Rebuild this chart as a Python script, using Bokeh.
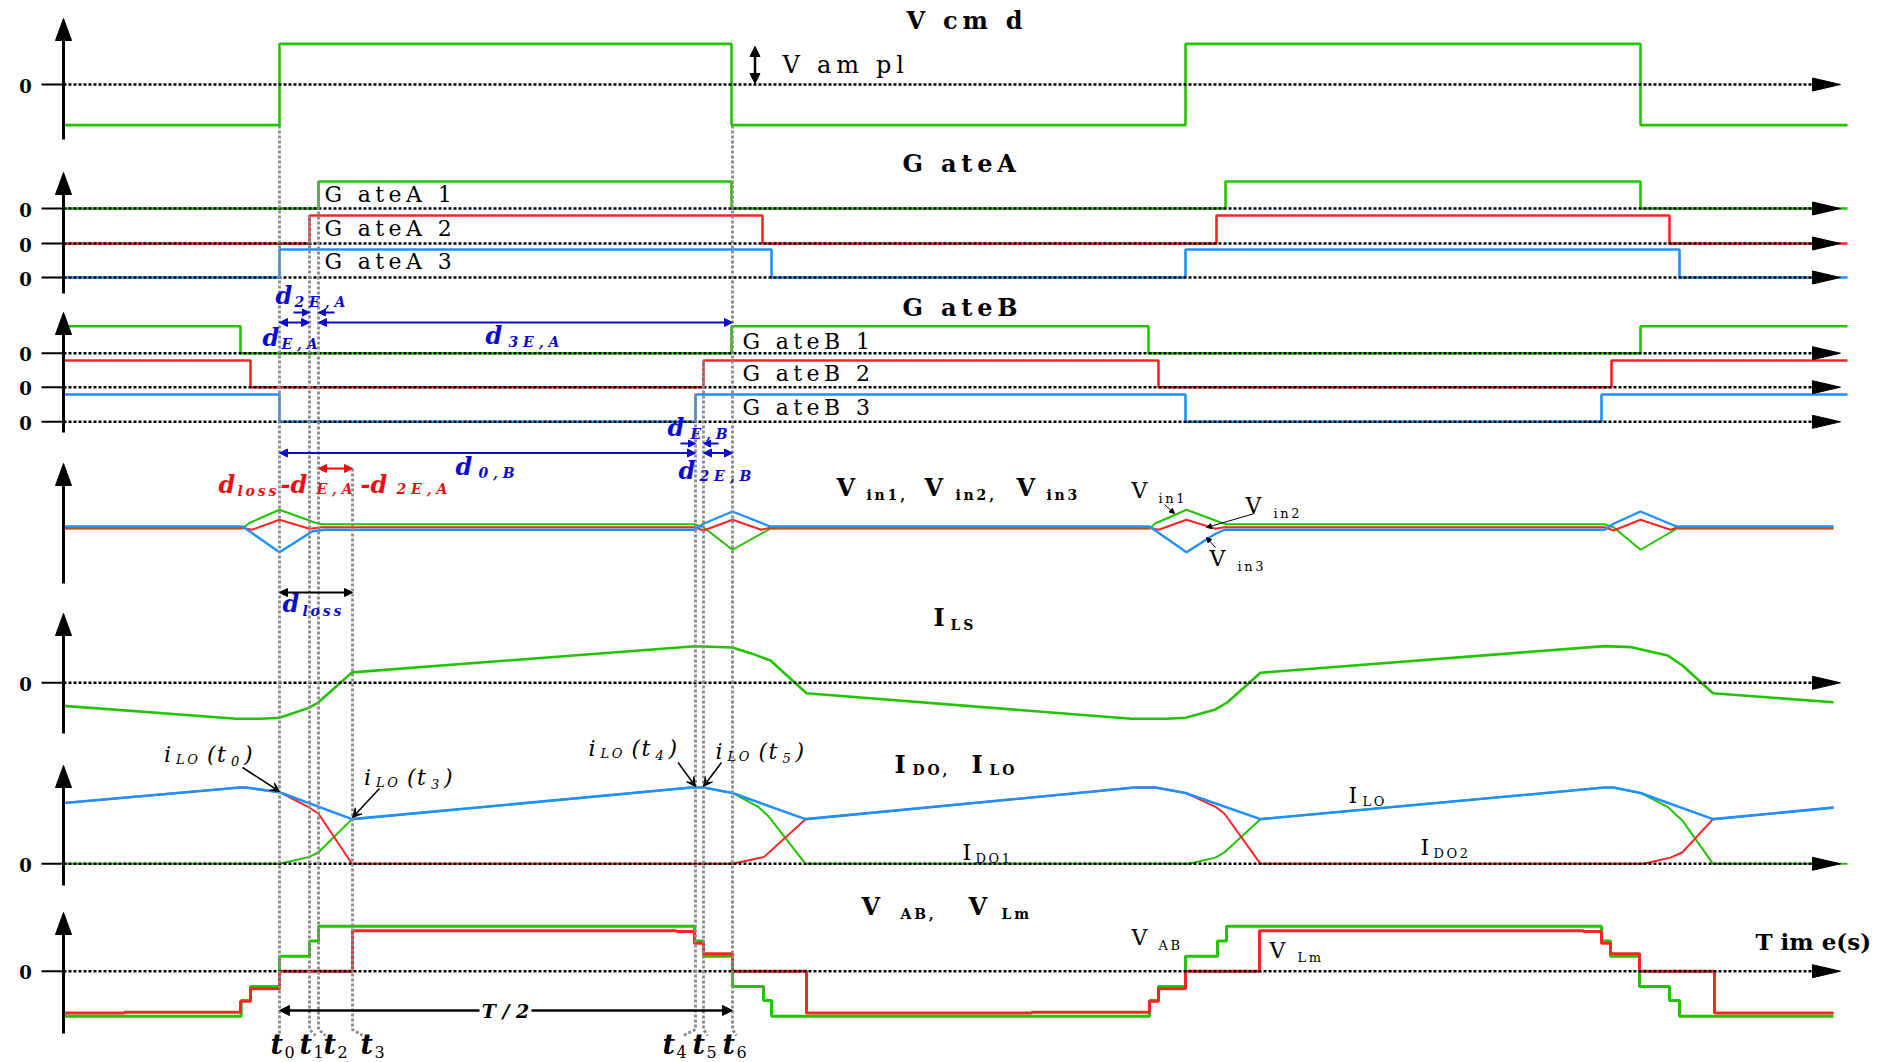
from bokeh.plotting import figure
from bokeh.models import Range1d, Arrow, NormalHead, VeeHead, ColumnDataSource
from bokeh.core.properties import value
from bokeh.embed import file_html
from bokeh.resources import INLINE

# ---------------- data ----------------
# switching instants t0..t6 (time in drawing units, one half period T/2 = t6 - t0)
T_EVENTS = [279, 309, 318, 352, 695, 703, 732]
T_NAMES = ["0", "1", "2", "3", "4", "5", "6"]

# command voltage (normalised, +/-1 = V ampl)
VCMD_T = [63, 279, 731, 1185, 1640, 1847]
VCMD_V = [-1, 1, -1, 1, -1, -1]

# gate signals (0 / 1)
GA1_T = [63, 318, 731, 1225, 1640, 1847]
GA1_V = [0, 1, 0, 1, 0, 0]
GA2_T = [63, 309, 762, 1216, 1669, 1847]
GA2_V = [0, 1, 0, 1, 0, 0]
GA3_T = [63, 279, 771, 1185, 1679, 1847]
GA3_V = [0, 1, 0, 1, 0, 0]
GB1_T = [63, 240, 731, 1148, 1640, 1847]
GB1_V = [1, 0, 1, 0, 1, 1]
GB2_T = [63, 250, 703, 1158, 1611, 1847]
GB2_V = [1, 0, 1, 0, 1, 1]
GB3_T = [63, 279, 695, 1185, 1601, 1847]
GB3_V = [1, 0, 1, 0, 1, 1]

# input voltages Vin1 (green), Vin2 (red), Vin3 (blue), deviation around common level
VIN1_T = [63, 242, 248.5, 260.6, 279, 315, 321, 694, 703, 732, 769.7,
          1149, 1155, 1168, 1186, 1221, 1226, 1604, 1613, 1640, 1676, 1833]
VIN1_V = [-0.05, -0.05, 0.17, 0.39, 0.71, 0.19, 0.13, 0.13, 0.01, -0.89, -0.05,
          -0.05, 0.17, 0.39, 0.71, 0.19, 0.13, 0.13, 0.01, -0.89, -0.05, -0.05]
VIN2_T = [63, 242, 251.5, 279, 309, 321, 694, 703, 732, 760.6, 769.7,
          1149, 1158, 1186, 1215, 1224, 1604, 1613, 1640, 1670, 1676, 1833]
VIN2_V = [-0.01, -0.01, -0.09, 0.31, -0.05, 0.01, 0.01, -0.12, 0.31, -0.09, -0.01,
          -0.01, -0.09, 0.31, -0.05, 0.01, 0.01, -0.12, 0.31, -0.09, -0.01, -0.01]
VIN3_T = [63, 242, 279, 312, 324, 694, 703, 732, 769.7,
          1149, 1186, 1215, 1224, 1604, 1613, 1640, 1676, 1833]
VIN3_V = [0.04, 0.04, -0.99, -0.15, -0.09, -0.09, 0.15, 0.64, 0.04,
          0.04, -0.99, -0.25, -0.09, -0.09, 0.15, 0.64, 0.04, 0.04]

# series inductor current I_LS (normalised)
ILS_T = [63.6, 236, 260.6, 279, 309, 318, 351.5, 691, 703, 732, 751.5, 770, 806,
         1131, 1167, 1185, 1215, 1227, 1260, 1604, 1631, 1667, 1682, 1712.5, 1833]
ILS_V = [-0.64, -1.0, -1.0, -0.97, -0.69, -0.54, 0.29, 1.01, 1.01, 0.98, 0.81, 0.62, -0.29,
         -1.0, -1.0, -0.97, -0.74, -0.54, 0.28, 1.02, 0.99, 0.76, 0.48, -0.29, -0.54]

# output inductor current I_LO (blue) and diode currents I_DO1 (green), I_DO2 (red)
ILO_T = [63.6, 239.4, 245.5, 279, 351.5, 691, 703, 732, 805,
         1134, 1155, 1185, 1260, 1604, 1613, 1640, 1712.5, 1833]
ILO_V = [0.79, 0.99, 0.99, 0.93, 0.58, 0.99, 0.99, 0.92, 0.58,
         0.99, 0.99, 0.92, 0.58, 0.99, 0.99, 0.92, 0.58, 0.73]
IDO1_T = [63.6, 279, 309, 318, 351.5, 691, 703, 732, 757.6, 768.5, 805,
          1188, 1215, 1224, 1260, 1604, 1613, 1640, 1667, 1682, 1712.5, 1847]
IDO1_V = [0, 0, 0.09, 0.15, 0.58, 0.99, 0.99, 0.92, 0.74, 0.61, 0,
          0, 0.08, 0.15, 0.58, 0.99, 0.99, 0.92, 0.74, 0.56, 0, 0]
IDO2_T = [63.6, 239.4, 245.5, 279, 309, 318, 351.5, 732, 763.6, 805,
          1134, 1155, 1185, 1215, 1224, 1260, 1643, 1670, 1682, 1712.5, 1833]
IDO2_V = [0.79, 0.99, 0.99, 0.93, 0.73, 0.65, 0, 0, 0.09, 0.58,
          0.99, 0.99, 0.92, 0.74, 0.65, 0, 0, 0.08, 0.15, 0.58, 0.73]

# bridge voltage V_AB (green) and magnetising voltage V_Lm (red), normalised
VAB_T = [63, 240.7, 250, 279, 309, 318, 694, 703, 732, 763, 771,
         1149, 1158, 1185, 1217, 1226, 1601, 1610, 1639, 1669, 1679, 1833]
VAB_V = [-1.0, -0.65, -0.34, 0.33, 0.67, 1.0, 0.67, 0.33, -0.34, -0.65, -1.0,
         -0.65, -0.34, 0.33, 0.67, 1.0, 0.67, 0.33, -0.34, -0.65, -1.0, -1.0]
VLM_T = [63, 124, 240, 250, 279, 352, 676, 694, 703, 732, 806,
         1031, 1149, 1158, 1185, 1259, 1583, 1601, 1610, 1639, 1714, 1833]
VLM_V = [-0.93, -0.91, -0.67, -0.39, 0.0, 0.90, 0.88, 0.62, 0.39, 0.0, -0.93,
         -0.91, -0.67, -0.39, 0.0, 0.90, 0.88, 0.62, 0.39, 0.0, -0.93, -0.93]

# ---------------- layout / style ----------------
W, H = 1893, 1060
X0, Y0 = 0, 0
GREEN = "#22C400"
RED = "#FF2424"
BLUE = "#1E90FF"
ABLUE = "#0B0BCC"
ARED = "#E81010"
GREY = "#8A8A8A"
SERIF = "DejaVu Serif"

# panel name -> (screen y of zero, pixels per unit)
PANELS = {
    "vcmd": (84.0, 40.6),
    "ga1": (208.0, 27.0), "ga2": (243.0, 28.0), "ga3": (277.0, 28.0),
    "gb1": (352.7, 27.0), "gb2": (386.7, 26.7), "gb3": (421.3, 27.3),
    "vin": (527.0, 25.0),
    "ils": (682.3, 36.0),
    "ido": (863.3, 77.0),
    "vab": (970.7, 45.0),
}
ARROW_ZERO = ["vcmd", "ga1", "ga2", "ga3", "gb1", "gb2", "gb3", "ils", "ido", "vab"]
AXES_V = [(18, 139), (172, 293), (312, 432), (463, 583), (613, 733), (765, 885), (912, 1033)]
AX_X = 63

p = figure(width=W, height=H, x_range=Range1d(X0, X0 + W), y_range=Range1d(Y0 + H, Y0),
           x_axis_type=None, y_axis_type=None, toolbar_location=None,
           output_backend="svg", min_border=0, outline_line_color=None,
           background_fill_color="white", border_fill_color="white")

p.extra_y_ranges = {n: Range1d(start=(z - (Y0 + H)) / k, end=(z - Y0) / k)
                    for n, (z, k) in PANELS.items()}

# ---------------- signals ----------------
def step(t, v, color, panel, lw=2.6):
    p.step(x=t, y=v, mode="after", line_color=color, line_width=lw, y_range_name=panel)

def curve(t, v, color, panel, lw=2.2):
    p.line(x=t, y=v, line_color=color, line_width=lw, y_range_name=panel)

step(VCMD_T, VCMD_V, GREEN, "vcmd")
step(GA1_T, GA1_V, GREEN, "ga1")
step(GA2_T, GA2_V, RED, "ga2")
step(GA3_T, GA3_V, BLUE, "ga3")
step(GB1_T, GB1_V, GREEN, "gb1")
step(GB2_T, GB2_V, RED, "gb2")
step(GB3_T, GB3_V, BLUE, "gb3")

curve(VIN1_T, VIN1_V, GREEN, "vin", 2.0)
curve(VIN2_T, VIN2_V, RED, "vin", 2.0)
curve(VIN3_T, VIN3_V, BLUE, "vin", 2.4)

curve(ILS_T, ILS_V, GREEN, "ils", 2.6)

curve(IDO1_T, IDO1_V, GREEN, "ido", 2.0)
curve(IDO2_T, IDO2_V, RED, "ido", 2.0)
curve(ILO_T, ILO_V, BLUE, "ido", 2.6)

step(VAB_T, VAB_V, GREEN, "vab", 3.0)
step(VLM_T, VLM_V, RED, "vab", 3.0)

# ---------------- axes ----------------
zx, zy = [], []
tx, ty = [], []
hx, hy = [], []
for n in ARROW_ZERO:
    z = PANELS[n][0]
    zx.append([AX_X, 1826]); zy.append([z, z])
    tx.append([41, AX_X]); ty.append([z, z])
    hx.append([1812, 1840, 1812]); hy.append([z - 6.5, z, z + 6.5])
p.multi_line(xs=zx, ys=zy, line_color="black", line_width=2.6, line_dash="3 2")
p.multi_line(xs=tx, ys=ty, line_color="black", line_width=2)
for top, bot in AXES_V:
    p.segment(x0=[AX_X], y0=[bot], x1=[AX_X], y1=[top + 10], line_color="black", line_width=3)
    hx.append([AX_X - 8, AX_X, AX_X + 8]); hy.append([top + 22, top, top + 22])
p.patches(xs=hx, ys=hy, fill_color="black", line_color="black")

# grey dashed timing lines t0..t6
VTOP = [125, 215, 181, 468, 394, 360, 125]
VBEND = [0, 6, 7, 10, -12, 4, 4]
gx, gy = [], []
for t, top, b in zip(T_EVENTS, VTOP, VBEND):
    gx.append([t, t, t + b]); gy.append([top, 1029, 1035])
p.multi_line(xs=gx, ys=gy, line_color=GREY, line_width=2.8, line_dash="3 2")

# ---------------- texts ----------------
TX = {k: [] for k in ["x", "y", "text", "size", "style", "color", "align"]}

def txt(x, y, s, size, style="bold", color="black", align="left"):
    TX["x"].append(x); TX["y"].append(y); TX["text"].append(s)
    TX["size"].append("%dpx" % size); TX["style"].append(style)
    TX["color"].append(color); TX["align"].append(align)

def sp(s, gap="\u2009"):
    return gap.join(s)

# panel titles
txt(906, 20, sp("V cm d"), 24)
txt(902, 163, sp("G ateA"), 24)
txt(902, 307, sp("G ateB"), 24)
txt(836, 487, "V", 24); txt(866, 494, sp("in1,"), 14)
txt(924, 487, "V", 24); txt(955, 494, sp("in2,"), 14)
txt(1016, 487, "V", 24); txt(1046, 494, sp("in3"), 14)
txt(933, 617, "I", 24); txt(950, 624, sp("LS"), 14)
txt(894, 764, "I", 24); txt(912, 769, sp("DO,"), 14)
txt(971, 764, "I", 24); txt(989, 769, sp("LO"), 14)
txt(861, 906, "V", 24); txt(900, 913, sp("AB,"), 14)
txt(968, 906, "V", 24); txt(1001, 913, sp("Lm"), 14)
txt(1755, 941, "T im e(s)", 23)

# zero labels
for n in ARROW_ZERO:
    txt(25, PANELS[n][0] + 1, "0", 18, "bold", "black", "center")

# in-plot labels
for i, yy in enumerate([194, 228, 261]):
    txt(324, yy, sp("G ateA %d" % (i + 1)), 22, "normal")
for i, yy in enumerate([341, 373, 407]):
    txt(742, yy, sp("G ateB %d" % (i + 1)), 22, "normal")
txt(782, 64, sp("V am pl"), 24, "normal")
txt(1131, 490, "V", 22, "normal"); txt(1158, 498, sp("in1"), 13, "normal")
txt(1245, 505, "V", 22, "normal"); txt(1273, 513, sp("in2"), 13, "normal")
txt(1209, 558, "V", 22, "normal"); txt(1237, 566, sp("in3"), 13, "normal")
txt(1348, 795, "I", 22, "normal"); txt(1362, 801, sp("LO"), 13, "normal")
txt(962, 852, "I", 22, "normal"); txt(975, 858, sp("DO1"), 13, "normal")
txt(1420, 847, "I", 22, "normal"); txt(1433, 853, sp("DO2"), 13, "normal")
txt(1131, 937, "V", 22, "normal"); txt(1158, 945, sp("AB"), 13, "normal")
txt(1269, 950, "V", 22, "normal"); txt(1297, 957, sp("Lm"), 13, "normal")

# duration annotations
BI = "bold italic"
txt(275, 295, "d", 24, BI, ABLUE); txt(294, 301, " ".join("2E,A"), 14, BI, ABLUE)
txt(262, 337, "d", 24, BI, ABLUE); txt(281, 343, " ".join("E,A"), 14, BI, ABLUE)
txt(485, 335, "d", 24, BI, ABLUE); txt(508, 341, " ".join("3E,A"), 14, BI, ABLUE)
txt(667, 427, "d", 24, BI, ABLUE); txt(690, 433, " ".join("E,B"), 14, BI, ABLUE)
txt(455, 466, "d", 24, BI, ABLUE); txt(478, 472, " ".join("0,B"), 14, BI, ABLUE)
txt(678, 470, "d", 24, BI, ABLUE); txt(699, 475, " ".join("2E,B"), 14, BI, ABLUE)
txt(282, 603, "d", 24, BI, ABLUE); txt(302, 610, sp("loss"), 14, BI, ABLUE)
txt(218, 484, "d", 24, BI, ARED); txt(237, 490, sp("loss"), 14, BI, ARED)
txt(280, 484, "-d", 24, BI, ARED); txt(316, 488, " ".join("E,A"), 14, BI, ARED)
txt(360, 484, "-d", 24, BI, ARED); txt(396, 488, " ".join("2E,A"), 14, BI, ARED)

# i_LO(t) labels
def ilo(x, y, n):
    txt(x, y, "i", 22, "italic")
    txt(x + 12, y + 5, sp("LO"), 13, "italic")
    txt(x + 43, y, "(", 22, "italic")
    txt(x + 53, y, "t", 22, "italic")
    txt(x + 67, y + 6, n, 13, "italic")
    txt(x + 80, y, ")", 22, "italic")

ilo(163.6, 754, "0")
ilo(363.6, 777, "3")
ilo(588, 748, "4")
ilo(715, 751, "5")

# t labels
T_LX = [270, 299, 323, 360, 662, 692, 722]
for lx, n in zip(T_LX, T_NAMES):
    txt(lx, 1044, "t", 27, BI)
    txt(lx + 14, 1051, n, 16, "normal")

txt(505, 1010, "T / 2", 19, BI, "black", "center")

src = ColumnDataSource(TX)
p.text(x="x", y="y", text="text", source=src, text_font_size="size", text_font_style="style",
       text_color="color", text_align="align", text_baseline="middle",
       text_font=value(SERIF))

# ---------------- arrows ----------------
def arrow(x0, y0, x1, y1, color="black", lw=2, both=False, size=9, vee=False):
    Head = VeeHead if vee else NormalHead
    end = Head(size=size, fill_color=color, line_color=color)
    start = Head(size=size, fill_color=color, line_color=color) if both else None
    p.add_layout(Arrow(x_start=x0, y_start=y0, x_end=x1, y_end=y1, start=start, end=end,
                       line_color=color, line_width=lw))

t0, t1, t2, t3, t4, t5, t6 = T_EVENTS
arrow(754.5, 46, 754.5, 83, "black", 2.5, True, 10)
arrow(293, 312, t1, 312, ABLUE, 2, False, 7)
arrow(334, 312, t2, 312, ABLUE, 2, False, 7)
arrow(t0, 322, t1, 322, ABLUE, 2, True, 8)
arrow(t2, 322, t6, 322, ABLUE, 2, True, 8)
arrow(680, 443, t4, 443, ABLUE, 2, False, 7)
arrow(718, 443, t5, 443, ABLUE, 2, False, 7)
arrow(t0, 452.5, t4, 452.5, ABLUE, 2, True, 8)
arrow(t5, 452.5, t6, 452.5, ABLUE, 2, True, 8)
arrow(t2, 468, t3, 468, ARED, 2, True, 8)
arrow(t0, 592, t3, 592, "black", 2, True, 8)
arrow(479, 1010, t0, 1010, "black", 2.5, False, 10)
arrow(531, 1010, t6, 1010, "black", 2.5, False, 10)
# label pointers
arrow(242, 767, t0, 791, "black", 1.5, False, 9, True)
arrow(379, 788, t3, 817, "black", 1.5, False, 9, True)
arrow(677.6, 762, t4, 786, "black", 1.5, False, 9, True)
arrow(721, 762, t5, 786, "black", 1.5, False, 9, True)
arrow(1164, 504, 1174, 513, "black", 1, False, 5)
arrow(1254, 513, 1206, 527, "black", 1, False, 5)
arrow(1215, 547, 1206, 537, "black", 1, False, 5)

open("out.html", "w").write(file_html(p, INLINE))
